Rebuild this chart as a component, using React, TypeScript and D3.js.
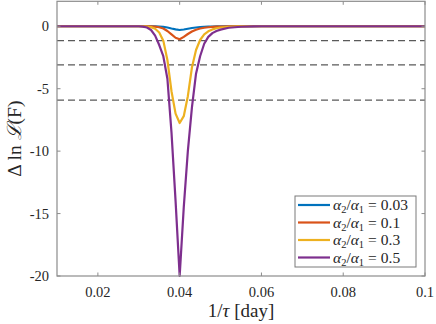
import React from 'react';
import * as d3 from 'd3';

// shared sample grid (1/tau, day^-1)
const tauInv = [0.01, 0.03, 0.031, 0.032, 0.033, 0.034, 0.035, 0.036, 0.037, 0.038, 0.039, 0.04, 0.041, 0.042, 0.043, 0.044, 0.045, 0.046, 0.047, 0.048, 0.049, 0.05, 0.052, 0.055, 0.058, 0.06, 0.1];

const ratio003 = [0, 0, 0, 0, 0, -0.01, -0.03, -0.05, -0.1, -0.18, -0.25, -0.3, -0.26, -0.2, -0.14, -0.1, -0.07, -0.05, -0.03, -0.02, -0.01, 0, 0, 0, 0, 0, 0];
const ratio01 = [0, 0, 0, 0, 0, -0.03, -0.08, -0.18, -0.38, -0.65, -0.92, -1.04, -0.85, -0.62, -0.42, -0.28, -0.18, -0.12, -0.08, -0.05, -0.03, -0.02, -0.01, 0, 0, 0, 0];
const ratio03 = [0, 0, 0, -0.02, -0.07, -0.2, -0.5, -1.15, -2.7, -5.2, -7.0, -7.75, -7.2, -5.6, -3.3, -1.9, -1.1, -0.65, -0.4, -0.25, -0.16, -0.1, -0.04, -0.01, 0, 0, 0];
const ratio05 = [0, 0, -0.03, -0.1, -0.3, -0.75, -1.5, -2.4, -4.2, -8.5, -14, -20, -14.5, -10, -6.5, -3.8, -2.4, -1.4, -0.85, -0.55, -0.38, -0.27, -0.12, -0.04, -0.01, 0, 0];

const seriesLabels = ['0.03', '0.1', '0.3', '0.5'];
const seriesColors = ['#0072BD', '#D95319', '#EDB120', '#7E2F8E'];
const seriesValues = [ratio003, ratio01, ratio03, ratio05];

// confidence thresholds
const thresholds = [-1.15, -3.09, -5.92];

const xTicks = [0.02, 0.04, 0.06, 0.08, 0.1];
const yTicks = [0, -5, -10, -15, -20];

const W = 436;
const H = 324;
const m = {left: 57, right: 11, top: 1.3, bottom: 48};

const serif = "'Liberation Serif', 'Times New Roman', 'DejaVu Serif', serif";

export default function App() {
  const x = d3.scaleLinear().domain([0.01, 0.1]).range([m.left, W - m.right]);
  const y = d3.scaleLinear().domain([-20, 2]).range([H - m.bottom, m.top]);

  const line = d3
    .line<number>()
    .x((_, i) => x(tauInv[i]))
    .y(d => y(d));

  const axisColor = '#8c8c8c';
  const x0 = x.range()[0];
  const x1 = x.range()[1];
  const yTop = y.range()[1];
  const yBot = y.range()[0];

  const legX = 295;
  const legY = 196;
  const legW = 121;
  const legH = 71;
  const rowH = 17.5;

  return (
    <svg width={W} height={H} style={{position: 'absolute', left: 0, top: 0, fontFamily: serif}}>
      <rect x={0} y={0} width={W} height={H} fill="#fff" />
      {thresholds.map(t => (
        <line key={t} x1={x0} x2={x1} y1={y(t)} y2={y(t)} stroke="#5a5a5a" strokeWidth={1.2} strokeDasharray="7,4" />
      ))}
      {seriesValues.map((vals, i) => (
        <path key={i} d={line(vals) || ''} fill="none" stroke={seriesColors[i]} strokeWidth={2.2} strokeLinejoin="round" />
      ))}
      {/* box */}
      <rect x={x0} y={yTop} width={x1 - x0} height={yBot - yTop} fill="none" stroke={axisColor} strokeWidth={1.2} />
      {xTicks.map(t => (
        <g key={t}>
          <line x1={x(t)} x2={x(t)} y1={yBot} y2={yBot - 3.5} stroke={axisColor} />
          <line x1={x(t)} x2={x(t)} y1={yTop} y2={yTop + 3.5} stroke={axisColor} />
          <text x={x(t)} y={yBot + 21} textAnchor="middle" fontSize={14.5} fill="#262626">{t}</text>
        </g>
      ))}
      {yTicks.map(t => (
        <g key={t}>
          <line x1={x0} x2={x0 + 3.5} y1={y(t)} y2={y(t)} stroke={axisColor} />
          <line x1={x1} x2={x1 - 3.5} y1={y(t)} y2={y(t)} stroke={axisColor} />
          <text x={x0 - 8} y={y(t) + 5} textAnchor="end" fontSize={14.5} fill="#262626">{t}</text>
        </g>
      ))}
      <text x={(x0 + x1) / 2} y={317} textAnchor="middle" fontSize={19} fill="#262626">
        1/<tspan fontStyle="italic">τ</tspan>{'  '}[day]
      </text>
      <text transform={`translate(21,${(yTop + yBot) / 2}) rotate(-90)`} textAnchor="middle" fontSize={19.5} fill="#262626">
        Δ ln <tspan fontStyle="italic">ℒ</tspan>(F)
      </text>
      <rect x={legX} y={legY} width={legW} height={legH} fill="#fff" stroke="#7a7a7a" strokeWidth={1} />
      {seriesLabels.map((lab, i) => {
        const cy = legY + 9 + i * rowH;
        return (
          <g key={lab}>
            <line x1={legX + 3} x2={legX + 35} y1={cy} y2={cy} stroke={seriesColors[i]} strokeWidth={2.2} />
            <text x={legX + 38} y={cy + 5} fontSize={15.5} fill="#262626">
              <tspan fontStyle="italic">α</tspan>
              <tspan fontSize={10.5} dy={3}>2</tspan>
              <tspan dy={-3}>/</tspan>
              <tspan fontStyle="italic">α</tspan>
              <tspan fontSize={10.5} dy={3}>1</tspan>
              <tspan dy={-3} dx={4}>=</tspan>
              <tspan dx={4}>{lab}</tspan>
            </text>
          </g>
        );
      })}
    </svg>
  );
}
